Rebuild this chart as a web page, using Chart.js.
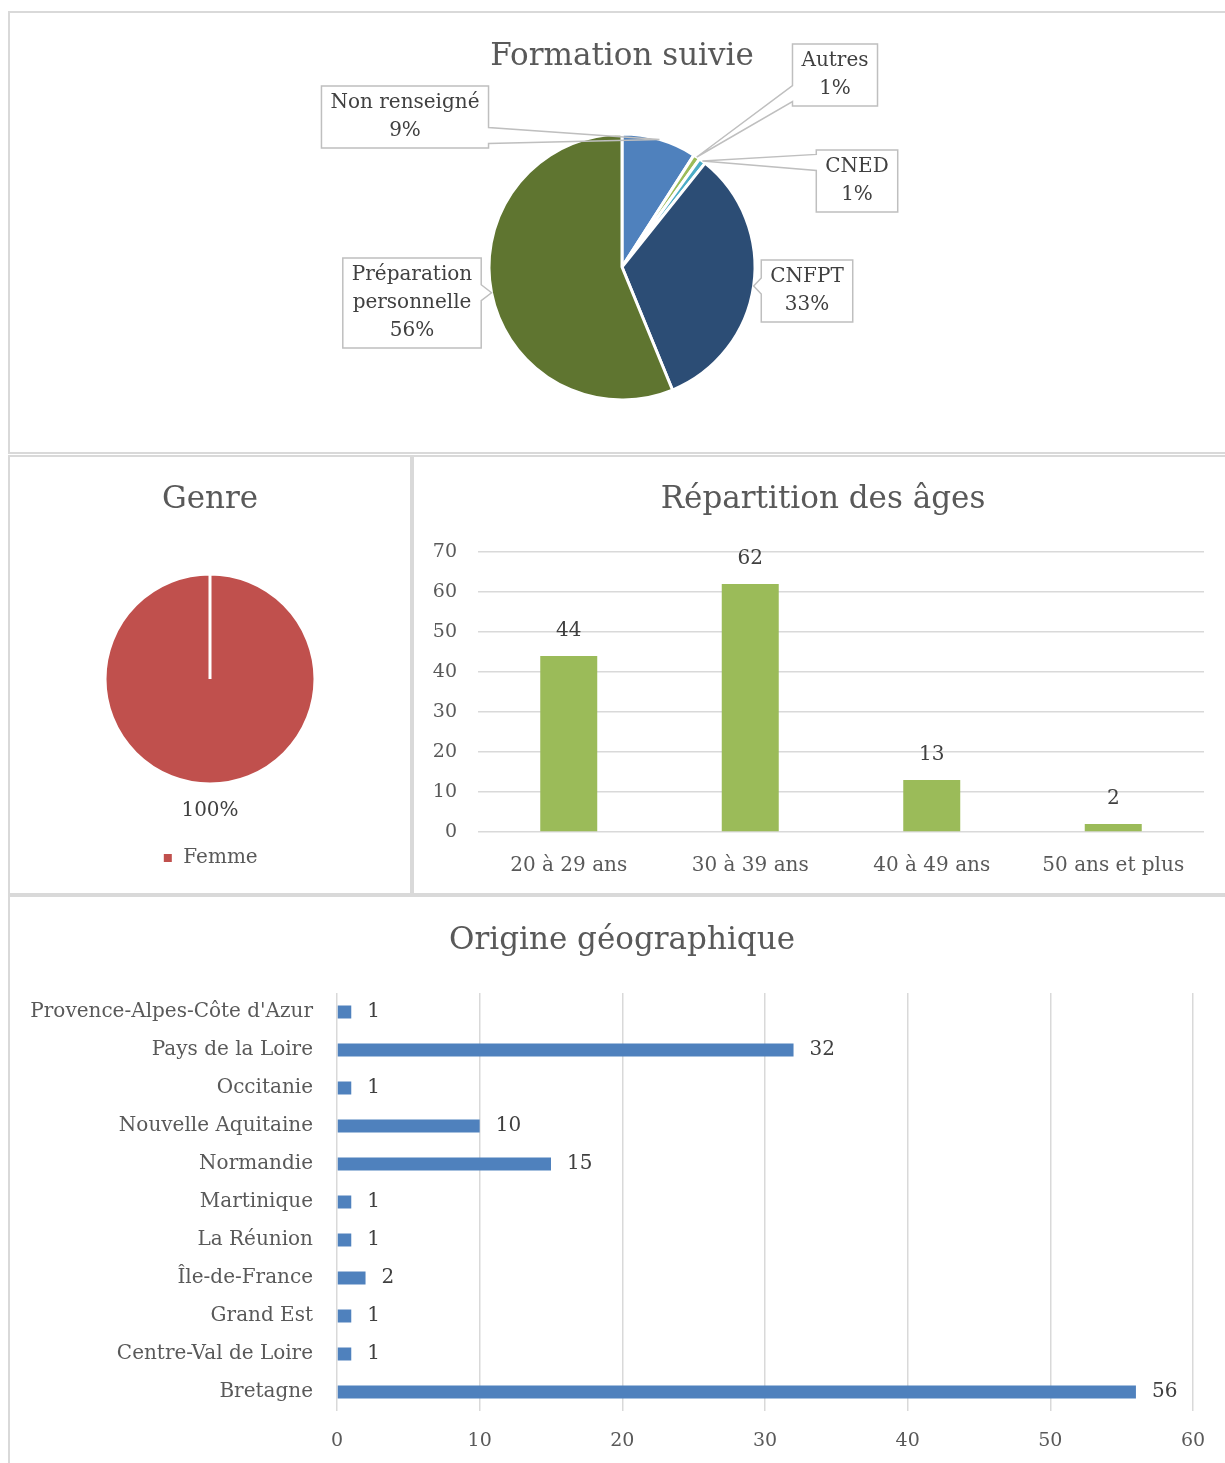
<!DOCTYPE html>
<html>
<head>
<meta charset="utf-8">
<script src="https://cdn.jsdelivr.net/npm/chart.js@4.4.0/dist/chart.umd.min.js"></script>
<style>
  body { margin: 0; background: #fff; }
  #page { position: relative; width: 1225px; height: 1463px; overflow: hidden; }
  .panel { position: absolute; border: 2px solid #d9d9d9; box-sizing: border-box; }
  canvas { position: absolute; display: block; }
</style>
</head>
<body>
<div id="page">
  <div class="panel" style="left:8px;top:11px;width:1230px;height:443px"></div>
  <div class="panel" style="left:8px;top:455px;width:404px;height:440px"></div>
  <div class="panel" style="left:412px;top:455px;width:830px;height:440px"></div>
  <div class="panel" style="left:8px;top:895px;width:1230px;height:580px"></div>

  <canvas id="formation" width="1215" height="440" style="left:10px;top:13px"></canvas>
  <canvas id="genre" width="400" height="436" style="left:10px;top:457px"></canvas>
  <canvas id="ages" width="810" height="436" style="left:414px;top:457px"></canvas>
  <canvas id="geo" width="1215" height="566" style="left:10px;top:897px"></canvas>
</div>
<script>
// --- data ---
var formationLabels = ["Non renseigné", "Autres", "CNED", "CNFPT", ["Préparation", "personnelle"]];
var formationCounts = [11, 1, 1, 40, 68];

var genreLabels = ["Femme"];
var genreCounts = [121];

var ageLabels = ["20 à 29 ans", "30 à 39 ans", "40 à 49 ans", "50 ans et plus"];
var ageCounts = [44, 62, 13, 2];
var ageTickMax = 70, ageTickStep = 10;

var regionLabels = ["Provence-Alpes-Côte d'Azur", "Pays de la Loire", "Occitanie",
  "Nouvelle Aquitaine", "Normandie", "Martinique", "La Réunion", "Île-de-France",
  "Grand Est", "Centre-Val de Loire", "Bretagne"];
var regionCounts = [1, 32, 1, 10, 15, 1, 1, 2, 1, 1, 56];
var regionTickMax = 60, regionTickStep = 10;

// --- common look ---
var FONT = "'DejaVu Serif', serif";
var GREY = "#595959";
var LABEL = "#404040";
Chart.defaults.font.family = FONT;
Chart.defaults.color = GREY;
Chart.defaults.animation = false;
Chart.defaults.plugins.tooltip.enabled = false;

function pct(v, arr) {
  var total = arr.reduce(function (a, b) { return a + b; }, 0);
  return Math.round(v / total * 100) + "%";
}

// chart title drawn at a given centre (Excel centres it on the whole frame, not on the plot)
var panelTitlePlugin = {
  id: "panelTitle",
  afterDraw: function (chart, args, opts) {
    var ctx = chart.ctx;
    ctx.save();
    ctx.font = "31px " + FONT;
    ctx.fillStyle = GREY;
    ctx.textAlign = "center";
    ctx.textBaseline = "middle";
    ctx.fillText(opts.text, opts.x, opts.y);
    ctx.restore();
  }
};

// callout boxes for the first pie (box centre given as offset from pie centre)
var calloutPlugin = {
  id: "callouts",
  afterDatasetsDraw: function (chart, args, opts) {
    var ctx = chart.ctx;
    var data = chart.data.datasets[0].data;
    var lineH = 28, padX = 9, padY = 3, half = 8;
    ctx.save();
    ctx.font = "20px " + FONT;
    chart.getDatasetMeta(0).data.forEach(function (arc, i) {
      var p = arc.getProps(["x", "y", "startAngle", "endAngle", "outerRadius"], true);
      var mid = (p.startAngle + p.endAngle) / 2;
      var tx = p.x + Math.cos(mid) * p.outerRadius;
      var ty = p.y + Math.sin(mid) * p.outerRadius;
      var lab = chart.data.labels[i];
      var lines = Array.isArray(lab) ? lab.slice() : [lab];
      lines.push(pct(data[i], data));
      var w = Math.max.apply(null, lines.map(function (s) { return ctx.measureText(s).width; })) + 2 * padX;
      var h = lines.length * lineH + 2 * padY;
      var cx = p.x + opts.offsets[i][0], cy = p.y + opts.offsets[i][1];
      var l = cx - w / 2, r = cx + w / 2, t = cy - h / 2, b = cy + h / 2;
      var by = Math.min(Math.max(ty, t + 0.2 * h), b - 0.2 * h);

      ctx.fillStyle = "#fff";
      ctx.fillRect(l, t, w, h);
      ctx.beginPath();
      if (tx > r) {
        ctx.moveTo(l, t); ctx.lineTo(r, t); ctx.lineTo(r, by - half);
        ctx.lineTo(tx, ty); ctx.lineTo(r, by + half); ctx.lineTo(r, b); ctx.lineTo(l, b);
      } else {
        ctx.moveTo(l, t); ctx.lineTo(r, t); ctx.lineTo(r, b); ctx.lineTo(l, b);
        ctx.lineTo(l, by + half); ctx.lineTo(tx, ty); ctx.lineTo(l, by - half);
      }
      ctx.closePath();
      ctx.strokeStyle = "#bfbfbf";
      ctx.lineWidth = 1.5;
      ctx.stroke();

      ctx.fillStyle = LABEL;
      ctx.textAlign = "center";
      ctx.textBaseline = "middle";
      lines.forEach(function (s, k) {
        ctx.fillText(s, cx, t + padY + lineH * (k + 0.5));
      });
    });
    ctx.restore();
  }
};

// outside percent label for the genre pie
var pieOutsidePlugin = {
  id: "pieOutside",
  afterDatasetsDraw: function (chart, args, opts) {
    var ctx = chart.ctx;
    var data = chart.data.datasets[0].data;
    ctx.save();
    ctx.font = "20px " + FONT;
    ctx.fillStyle = LABEL;
    ctx.textAlign = "center";
    ctx.textBaseline = "middle";
    chart.getDatasetMeta(0).data.forEach(function (arc, i) {
      var p = arc.getProps(["x", "y", "startAngle", "endAngle", "outerRadius"], true);
      var mid = (p.startAngle + p.endAngle) / 2;
      var rr = p.outerRadius + opts.gap;
      ctx.fillText(pct(data[i], data), p.x + Math.cos(mid) * rr, p.y + Math.sin(mid) * rr);
    });
    ctx.restore();
  }
};

// value labels on bars
var barValuePlugin = {
  id: "barValues",
  afterDatasetsDraw: function (chart, args, opts) {
    var ctx = chart.ctx;
    var data = chart.data.datasets[0].data;
    ctx.save();
    ctx.font = "20px " + FONT;
    ctx.fillStyle = LABEL;
    ctx.textBaseline = "middle";
    chart.getDatasetMeta(0).data.forEach(function (bar, i) {
      if (opts.horizontal) {
        ctx.textAlign = "left";
        ctx.fillText(data[i], bar.x + opts.gap, bar.y);
      } else {
        ctx.textAlign = "center";
        ctx.fillText(data[i], bar.x, bar.y - opts.gap);
      }
    });
    ctx.restore();
  }
};

// --- Formation suivie ---
new Chart(document.getElementById("formation"), {
  type: "pie",
  data: {
    labels: formationLabels,
    datasets: [{
      data: formationCounts,
      backgroundColor: ["#4F81BD", "#9BBB59", "#4BACC6", "#2C4D75", "#5F7530"],
      borderColor: "#fff",
      borderWidth: 3,
      radius: 133
    }]
  },
  options: {
    responsive: false,
    layout: { padding: { left: 9, right: 0, top: 80.6, bottom: 12.6 } },
    plugins: {
      legend: { display: false },
      panelTitle: { text: "Formation suivie", x: 612, y: 44 },
      callouts: { offsets: [[-217, -150], [213, -192], [235, -86], [185, 24], [-210, 36]] }
    }
  },
  plugins: [calloutPlugin, panelTitlePlugin]
});

// --- Genre ---
new Chart(document.getElementById("genre"), {
  type: "pie",
  data: {
    labels: genreLabels,
    datasets: [{
      data: genreCounts,
      backgroundColor: ["#C0504D"],
      borderColor: "#fff",
      borderWidth: 3,
      radius: 105
    }]
  },
  options: {
    responsive: false,
    layout: { padding: { top: 72.2, bottom: 15 } },
    plugins: {
      panelTitle: { text: "Genre", x: 200, y: 43 },
      legend: {
        position: "bottom",
        labels: { boxWidth: 11, boxHeight: 11, padding: 19.2, color: GREY, font: { size: 20 } }
      },
      pieOutside: { gap: 27 }
    }
  },
  plugins: [pieOutsidePlugin, panelTitlePlugin]
});

// --- Répartition des âges ---
new Chart(document.getElementById("ages"), {
  type: "bar",
  data: {
    labels: ageLabels,
    datasets: [{
      data: ageCounts,
      backgroundColor: "#9BBB59",
      categoryPercentage: 1,
      barPercentage: 0.314
    }]
  },
  options: {
    responsive: false,
    layout: { padding: { left: 0, right: 20, top: 95, bottom: 0 } },
    plugins: {
      legend: { display: false },
      panelTitle: { text: "Répartition des âges", x: 409, y: 43 },
      barValues: { gap: 25 }
    },
    scales: {
      x: {
        grid: { display: false },
        border: { display: false },
        ticks: { color: GREY, font: { size: 20 }, padding: 13.5 },
        afterFit: function (s) { s.height = 61; }
      },
      y: {
        min: 0, max: ageTickMax,
        ticks: { stepSize: ageTickStep, color: GREY, font: { size: 19 }, padding: 21 },
        grid: { color: "#d9d9d9", lineWidth: 1.5, drawTicks: false },
        border: { display: false },
        afterFit: function (s) { s.width = 64; }
      }
    }
  },
  plugins: [barValuePlugin, panelTitlePlugin]
});

// --- Origine géographique ---
new Chart(document.getElementById("geo"), {
  type: "bar",
  data: {
    labels: regionLabels,
    datasets: [{
      data: regionCounts,
      backgroundColor: "#4F81BD",
      categoryPercentage: 1,
      barPercentage: 0.342
    }]
  },
  options: {
    indexAxis: "y",
    responsive: false,
    layout: { padding: { left: 0, right: 32, top: 96, bottom: 0 } },
    plugins: {
      legend: { display: false },
      panelTitle: { text: "Origine géographique", x: 612, y: 44 },
      barValues: { horizontal: true, gap: 16 }
    },
    scales: {
      x: {
        min: 0, max: regionTickMax,
        ticks: { stepSize: regionTickStep, color: GREY, font: { size: 19 }, padding: 18.6 },
        grid: { color: "#d9d9d9", lineWidth: 1.5, drawTicks: false },
        border: { display: false },
        afterFit: function (s) { s.height = 52; }
      },
      y: {
        grid: { display: false },
        border: { display: false },
        ticks: { color: GREY, font: { size: 20 }, padding: 16, autoSkip: false },
        afterFit: function (s) { s.width = 327; }
      }
    }
  },
  plugins: [barValuePlugin, panelTitlePlugin]
});
</script>
</body>
</html>
